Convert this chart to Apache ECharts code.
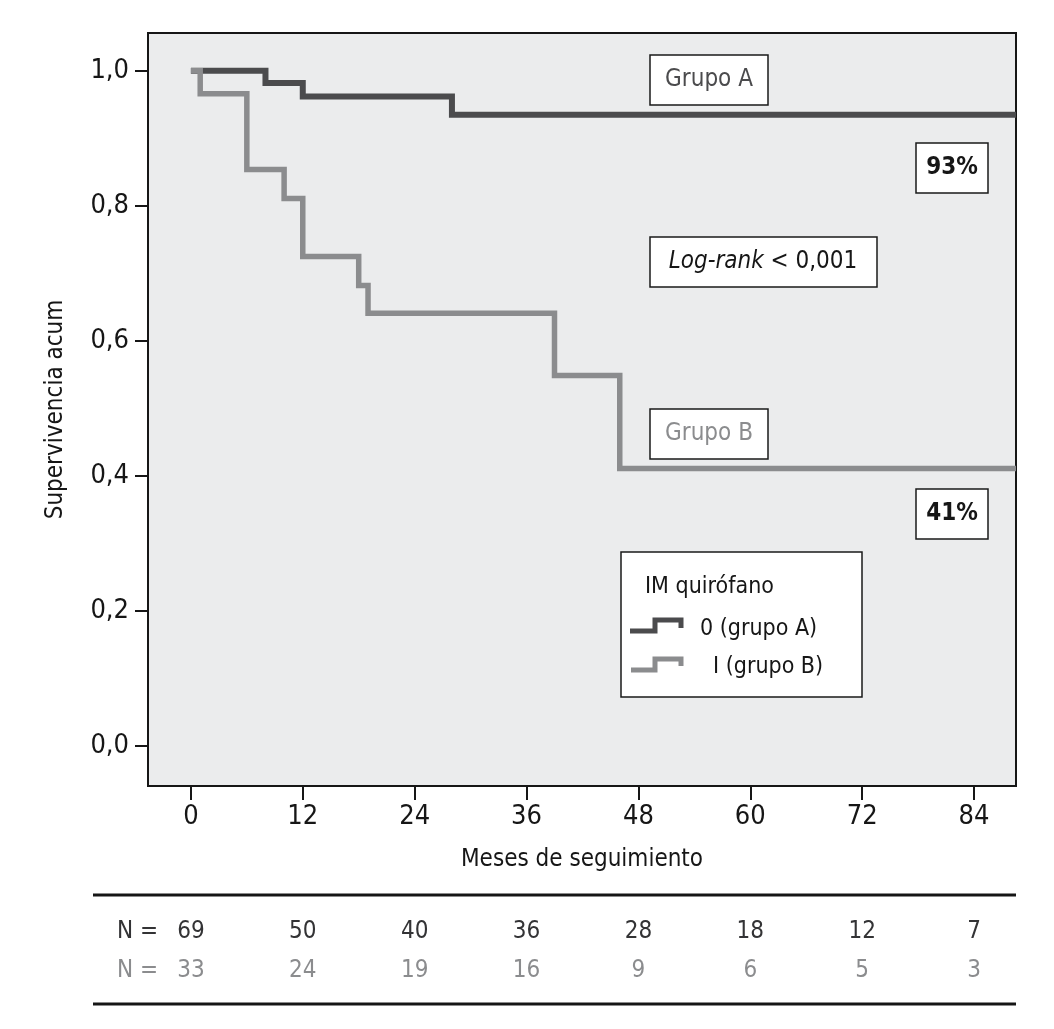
<!DOCTYPE html>
<html>
<head>
<meta charset="utf-8">
<script src="https://cdn.jsdelivr.net/npm/echarts@6/dist/echarts.min.js"></script>
<style>
html,body{margin:0;padding:0;background:#fff;}
#chart{width:1054px;height:1029px;}
</style>
</head>
<body>
<div id="chart"></div>
<script>
// ---- data ----
const monthTicks = [0, 12, 24, 36, 48, 60, 72, 84];
const yTicks = [0, 0.2, 0.4, 0.6, 0.8, 1.0];
const timesA = [0, 8, 12, 28, 88.5];
const survA  = [1.0, 0.982, 0.962, 0.935, 0.935];
const timesB = [0, 1, 6, 10, 12, 18, 19, 39, 46, 88.5];
const survB  = [1.0, 0.966, 0.854, 0.811, 0.725, 0.682, 0.641, 0.549, 0.411, 0.411];
const atRiskA = [69, 50, 40, 36, 28, 18, 12, 7];
const atRiskB = [33, 24, 19, 16, 9, 6, 5, 3];
const seriesNames = ['0 (grupo A)', 'I (grupo B)'];

// ---- styles ----
const FONT = "'Liberation Sans Narrow','DejaVu Sans Condensed','Arial Narrow',sans-serif";
const DARK = '#4b4b4d';
const GREY = '#8b8c8e';
const INK = '#161616';

const chart = echarts.init(document.getElementById('chart'), null, {renderer: 'canvas'});

function box(x, y, w, h) {
  return {type: 'rect', shape: {x: x, y: y, width: w, height: h},
    style: {fill: '#ffffff', stroke: '#1a1a1a', lineWidth: 1.5}, z: 10};
}
function txt(x, y, text, opts) {
  opts = opts || {};
  return {type: 'text', z: 11,
    style: Object.assign({x: x, y: y, text: text,
      font: (opts.weight || 'normal') + ' ' + (opts.size || 24) + 'px ' + FONT,
      fill: opts.color || INK,
      textAlign: opts.align || 'center', align: opts.align || 'center',
      textVerticalAlign: 'middle', verticalAlign: 'middle'}, opts.extra || {})};
}

const option = {
  animation: false,
  backgroundColor: '#ffffff',
  grid: {left: 148, right: 38, top: 33, bottom: 243, show: true,
    backgroundColor: '#ebeced', borderColor: '#161616', borderWidth: 2},
  xAxis: {
    type: 'value', min: -4.6, max: 88.5,
    name: 'Meses de seguimiento', nameLocation: 'middle', nameGap: 62,
    nameTextStyle: {fontFamily: FONT, fontSize: 24, color: INK},
    axisLine: {show: true, onZero: false, lineStyle: {color: '#161616', width: 2}},
    axisTick: {show: true, customValues: monthTicks, length: 14, lineStyle: {color: '#161616', width: 2}},
    axisLabel: {customValues: monthTicks, fontFamily: FONT, fontSize: 27, color: INK, margin: 17},
    splitLine: {show: false}
  },
  yAxis: {
    type: 'value', min: -0.059, max: 1.056,
    name: 'Supervivencia acum', nameLocation: 'middle', nameGap: 80,
    nameTextStyle: {fontFamily: FONT, fontSize: 24, color: INK},
    axisLine: {show: true, onZero: false, lineStyle: {color: '#161616', width: 2}},
    axisTick: {show: true, customValues: yTicks, length: 13, lineStyle: {color: '#161616', width: 2}},
    axisLabel: {customValues: yTicks, fontFamily: FONT, fontSize: 27, color: INK, margin: 19,
      formatter: v => v.toFixed(1).replace('.', ',')},
    splitLine: {show: false}
  },
  series: [
    {name: seriesNames[0], type: 'line', step: 'end', symbol: 'none',
      data: timesA.map((t, i) => [t, survA[i]]),
      lineStyle: {color: DARK, width: 6, cap: 'butt', join: 'miter'}, z: 3},
    {name: seriesNames[1], type: 'line', step: 'end', symbol: 'none',
      data: timesB.map((t, i) => [t, survB[i]]),
      lineStyle: {color: GREY, width: 5.5, cap: 'butt', join: 'miter'}, z: 4}
  ]
};
chart.setOption(option);

// ---- annotations, legend, at-risk table ----
const g = [];
g.push(box(650, 55, 118, 50), txt(709, 80, 'Grupo A', {color: DARK}));
g.push(box(916, 143, 72, 50), txt(952, 168, '93%', {color: INK, weight: 'bold'}));
g.push(box(650, 237, 227, 50));
g.push({type: 'text', z: 11, style: {x: 763, y: 262,
  text: '{i|Log-rank} {n|< 0,001}',
  textAlign: 'center', align: 'center', textVerticalAlign: 'middle', verticalAlign: 'middle',
  font: '24px ' + FONT, fill: INK,
  rich: {i: {fontFamily: FONT, fontSize: 24, fontStyle: 'italic', fill: INK, color: INK},
         n: {fontFamily: FONT, fontSize: 24, fill: INK, color: INK}}}});
g.push(box(650, 409, 118, 50), txt(709, 434, 'Grupo B', {color: GREY}));
g.push(box(916, 489, 72, 50), txt(952, 514, '41%', {color: INK, weight: 'bold'}));
// legend
g.push(box(621, 552, 241, 145));
g.push(txt(645, 587, 'IM quirófano', {align: 'left', size: 23}));
g.push({type: 'polyline', z: 11, shape: {points: [[630, 631], [655, 631], [655, 620], [681, 620], [681, 628]]},
  style: {stroke: DARK, lineWidth: 5, fill: null, lineJoin: 'miter'}});
g.push({type: 'polyline', z: 11, shape: {points: [[631, 670], [655, 670], [655, 659], [681, 659], [681, 666]]},
  style: {stroke: GREY, lineWidth: 5, fill: null, lineJoin: 'miter'}});
g.push(txt(700, 629, seriesNames[0], {align: 'left', size: 23}));
g.push(txt(713, 667, seriesNames[1], {align: 'left', size: 23}));
// table lines
g.push({type: 'line', z: 11, shape: {x1: 93, y1: 895, x2: 1016, y2: 895}, style: {stroke: '#161616', lineWidth: 3}});
g.push({type: 'line', z: 11, shape: {x1: 93, y1: 1004, x2: 1016, y2: 1004}, style: {stroke: '#161616', lineWidth: 3}});
g.push(txt(117, 932, 'N =', {align: 'left', color: '#333335'}));
g.push(txt(117, 971, 'N =', {align: 'left', color: GREY}));
monthTicks.forEach((m, i) => {
  const px = chart.convertToPixel({xAxisIndex: 0}, m);
  g.push(txt(px, 932, String(atRiskA[i]), {color: '#333335'}));
  g.push(txt(px, 971, String(atRiskB[i]), {color: GREY}));
});
chart.setOption({graphic: {elements: g}});
</script>
</body>
</html>
